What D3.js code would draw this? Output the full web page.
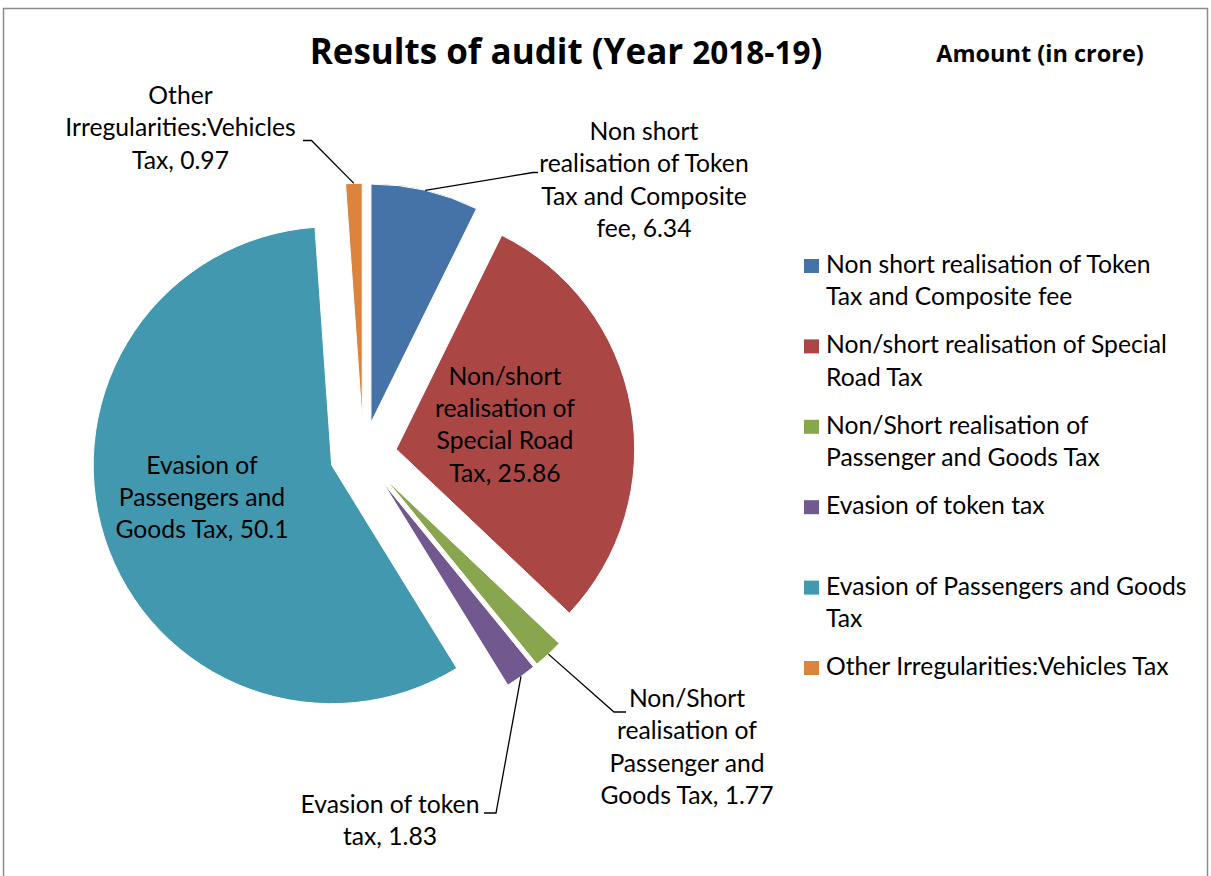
<!DOCTYPE html>
<html>
<head>
<meta charset="utf-8">
<script src="https://cdn.jsdelivr.net/npm/d3@7"></script>
<style>
  body { margin: 0; background: #fff; }
  svg { display: block; font-family: Lato, "Open Sans", sans-serif; }
</style>
</head>
<body>
<svg id="chart" width="1211" height="876"></svg>
<script>
const categories = [
  "Non short realisation of Token Tax and Composite fee",
  "Non/short realisation of Special Road Tax",
  "Non/Short realisation of Passenger and Goods Tax",
  "Evasion of token tax",
  "Evasion of Passengers and Goods Tax",
  "Other Irregularities:Vehicles Tax"
];
const values = [6.34, 25.86, 1.77, 1.83, 50.1, 0.97];
const colors = ["#4572A7", "#AA4643", "#89A54E", "#71588F", "#4198AF", "#DB843D"];

const svg = d3.select("#chart");

// chart frame
svg.append("rect")
  .attr("x", 3.5).attr("y", 8.5)
  .attr("width", 1204).attr("height", 900)
  .attr("fill", "#fff")
  .attr("stroke", "#8c8c8c")
  .attr("stroke-width", 1.5);

// title
const title = svg.append("text")
  .attr("x", 566).attr("y", 64)
  .attr("text-anchor", "middle")
  .attr("font-family", "'Open Sans', sans-serif")
  .attr("font-weight", "bold")
  .attr("font-size", 35);
title.append("tspan").text("Results of audit (Year ");
title.append("tspan").attr("font-size", 31.5).text("2018-19");
title.append("tspan").text(")");

svg.append("text")
  .attr("x", 1040).attr("y", 62)
  .attr("text-anchor", "middle")
  .attr("font-family", "'Open Sans', sans-serif")
  .attr("font-weight", "bold")
  .attr("font-size", 23.5)
  .text("Amount (in crore)");

// pie
const cx = 363.4, cy = 455;
const radius = 238.5;
const explode = 33.3;

const pie = d3.pie().sort(null).value((d) => d);
const arcs = pie(values);
const arc = d3.arc().innerRadius(0).outerRadius(radius);

function offset(a, dist) {
  const mid = (a.startAngle + a.endAngle) / 2;
  return [dist * Math.sin(mid), -dist * Math.cos(mid)];
}

const g = svg.append("g").attr("transform", `translate(${cx},${cy})`);

g.selectAll("path")
  .data(arcs)
  .enter()
  .append("path")
  .attr("d", arc)
  .attr("transform", (d) => `translate(${offset(d, explode)})`)
  .attr("fill", (d, i) => colors[i])
  .attr("stroke", "#fff")
  .attr("stroke-width", 1);

// data labels (placed like the original, leader lines from slice edge)
const labelLayout = [
  { x: 644, y: 140, w: 218, elbow: [533, 172.5], tick: 538 },
  { x: 505, y: 384.5, w: 165 },
  { x: 687, y: 707, w: 200, elbow: [614, 712], tick: 626 },
  { x: 390, y: 813, w: 195, elbow: [496, 813], tick: 484 },
  { x: 202, y: 473.5, w: 200 },
  { x: 180.5, y: 104, w: 260, elbow: [311.5, 140.5], tick: 303 }
];
const lineH = 32.4;
const fontSize = 24.7;

const measure = svg.append("text").attr("font-size", fontSize).attr("visibility", "hidden");
function textWidth(s) {
  measure.text(s);
  return measure.node().getComputedTextLength();
}
function wrap(s, maxW) {
  const words = s.split(" ");
  const lines = [];
  let cur = "";
  words.forEach((w) => {
    const test = cur ? cur + " " + w : w;
    if (cur && textWidth(test) > maxW) {
      lines.push(cur);
      cur = w;
    } else {
      cur = test;
    }
  });
  if (cur) lines.push(cur);
  return lines;
}

arcs.forEach((a, i) => {
  const lay = labelLayout[i];
  if (lay.elbow) {
    const [ox, oy] = offset(a, explode);
    const [px, py] = offset(a, radius);
    const sx = cx + ox + px;
    const sy = cy + oy + py;
    svg.append("path")
      .attr("d", d3.line()([[sx, sy], lay.elbow, [lay.tick, lay.elbow[1]]]))
      .attr("fill", "none")
      .attr("stroke", "#000")
      .attr("stroke-width", 1.3);
  }
  const lines = wrap(categories[i] + ", " + values[i], lay.w);
  const t = svg.append("text")
    .attr("text-anchor", "middle")
    .attr("font-size", fontSize)
    .attr("fill", "#000");
  lines.forEach((ln, k) => {
    t.append("tspan").attr("x", lay.x).attr("y", lay.y + k * lineH).text(ln);
  });
});

// legend
const legendX = 804;
const legendY = 273;
const legendStep = 80.4;
const legend = svg.append("g");
categories.forEach((c, i) => {
  const y = legendY + i * legendStep;
  legend.append("rect")
    .attr("x", legendX).attr("y", y - 14)
    .attr("width", 15).attr("height", 14)
    .attr("fill", colors[i]);
  const lines = wrap(c, 363);
  const t = legend.append("text").attr("font-size", fontSize).attr("fill", "#000");
  lines.forEach((ln, k) => {
    t.append("tspan").attr("x", legendX + 22).attr("y", y + k * lineH).text(ln);
  });
});
measure.remove();
</script>
</body>
</html>
